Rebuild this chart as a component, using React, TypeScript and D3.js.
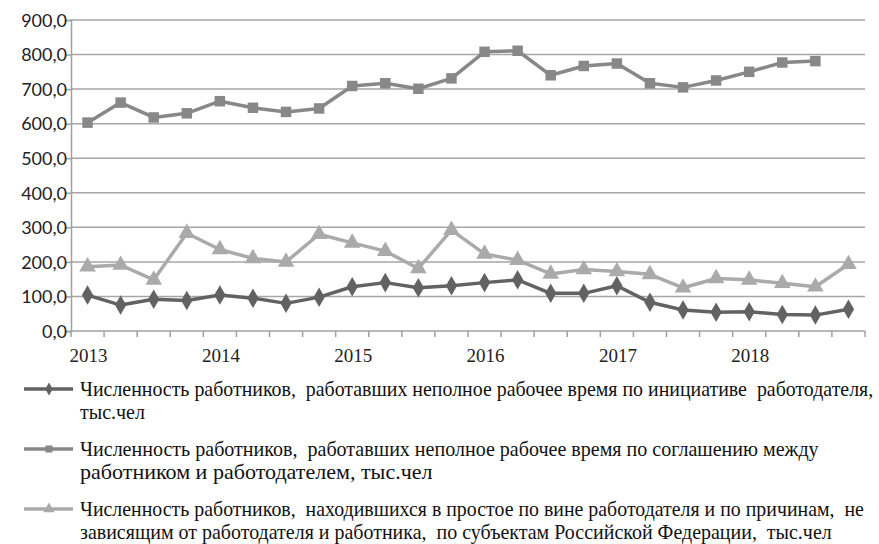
import React, { useEffect, useRef } from "react";
import * as d3 from "d3";

const years = ["2013", "2014", "2015", "2016", "2017", "2018"];
const quarters = years.flatMap(y => ["I", "II", "III", "IV"].map(q => `${y} ${q}`));

// по инициативе работодателя
const initiative = [104, 75, 92, 88, 104, 95, 80, 98, 128, 140, 125, 131,
    140, 148, 109, 109, 131, 83, 61, 54, 56, 48, 46, 63];
// по соглашению (нет данных за последний квартал)
const agreement = [603, 661, 618, 630, 665, 646, 634, 644, 709, 717, 701, 731,
    808, 811, 740, 767, 774, 717, 705, 725, 750, 777, 781, null];
// простой
const idle = [186, 191, 148, 283, 236, 210, 200, 280, 255, 231, 181, 292,
    223, 205, 165, 178, 172, 164, 125, 152, 148, 138, 128, 193];

const yTicks = [0, 100, 200, 300, 400, 500, 600, 700, 800, 900];

const legendLines = [
    ["Численность работников,  работавших неполное рабочее время по инициативе  работодателя,", "тыс.чел"],
    ["Численность работников,  работавших неполное рабочее время по соглашению между", "работником и работодателем, тыс.чел"],
    ["Численность работников,  находившихся в простое по вине работодателя и по причинам,  не", "зависящим от работодателя и работника,  по субъектам Российской Федерации,  тыс.чел"],
];
const legendWidths = [[794, 65], [739, 353], [784, 752]];

const series = [
    { values: initiative, color: "#626262", symbol: d3.symbolDiamond, size: 110 },
    { values: agreement, color: "#888888", symbol: d3.symbolSquare, size: 110 },
    { values: idle, color: "#aaaaaa", symbol: d3.symbolTriangle, size: 120 },
];

const serif = "Liberation Serif, Times New Roman, DejaVu Serif, serif";

export default function App() {
    const svgRef = useRef<SVGSVGElement>(null);

    useEffect(() => {
        const width = 879;
        const height = 544;
        const left = 71, right = 865, top = 20, bottom = 331;

        const svg = d3.select(svgRef.current)
            .attr("width", width)
            .attr("height", height);
        svg.selectAll("*").remove();

        const x = d3.scaleBand().domain(quarters).range([left, right]);
        const y = d3.scaleLinear().domain([0, 900]).range([bottom, top]);
        const cx = (q: string) => (x(q) as number) + x.bandwidth() / 2;

        // gridlines
        svg.append("g").selectAll("line")
            .data(yTicks.slice(1))
            .join("line")
            .attr("x1", left).attr("x2", right)
            .attr("y1", d => y(d)).attr("y2", d => y(d))
            .attr("stroke", "#a6a6a6").attr("stroke-width", 1.5);

        // y axis
        const yAxis = svg.append("g")
            .attr("transform", `translate(${left},0)`)
            .call(d3.axisLeft(y).tickValues(yTicks).tickSize(5)
                .tickFormat(d => d3.format(".1f")(d as number).replace(".", ",")));
        yAxis.select(".domain").attr("stroke", "#a0a0a0").attr("stroke-width", 1.5);
        yAxis.selectAll(".tick line").attr("stroke", "#a0a0a0").attr("stroke-width", 1.5);
        yAxis.selectAll(".tick text")
            .attr("font-family", "Lato, sans-serif").attr("font-size", 18)
            .attr("fill", "#222").attr("x", -4).attr("dy", "0.35em");

        // x axis
        const boundaries = quarters.map(q => x(q) as number).concat([right]);
        svg.append("line")
            .attr("x1", left).attr("x2", right).attr("y1", bottom).attr("y2", bottom)
            .attr("stroke", "#a0a0a0").attr("stroke-width", 1.5);
        svg.append("g").selectAll("line")
            .data(boundaries)
            .join("line")
            .attr("x1", d => d).attr("x2", d => d)
            .attr("y1", bottom).attr("y2", bottom + 6)
            .attr("stroke", "#a0a0a0").attr("stroke-width", 1.5);
        svg.append("g").selectAll("text")
            .data(years)
            .join("text")
            .attr("x", d => cx(`${d} I`) + 1)
            .attr("y", 362)
            .attr("text-anchor", "middle")
            .style("font-family", serif)
            .attr("font-size", 19)
            .attr("fill", "#222")
            .text(d => d);

        // series
        series.forEach(s => {
            const pts = quarters.map((q, i) => ({ q, v: s.values[i] }))
                .filter(d => d.v !== null) as { q: string; v: number }[];
            const line = d3.line<{ q: string; v: number }>()
                .x(d => cx(d.q)).y(d => y(d.v));
            svg.append("path")
                .datum(pts)
                .attr("d", line)
                .attr("fill", "none")
                .attr("stroke", s.color)
                .attr("stroke-width", 3.5)
                .attr("stroke-linejoin", "round");
            svg.append("g").selectAll("path")
                .data(pts)
                .join("path")
                .attr("transform", d => `translate(${cx(d.q)},${y(d.v)})`)
                .attr("d", d3.symbol().type(s.symbol).size(s.size)())
                .attr("fill", s.color);
        });

        // legend
        const legendY = [389, 449, 509];
        const baselines = [[396, 419], [456, 479], [516, 539]];
        series.forEach((s, i) => {
            const g = svg.append("g");
            g.append("line")
                .attr("x1", 24).attr("x2", 73)
                .attr("y1", legendY[i]).attr("y2", legendY[i])
                .attr("stroke", s.color).attr("stroke-width", 3.5);
            g.append("path")
                .attr("transform", `translate(49,${legendY[i]})`)
                .attr("d", d3.symbol().type(s.symbol).size(s.size * 0.45)())
                .attr("fill", s.color);
            legendLines[i].forEach((txt, j) => {
                const t = g.append("text")
                    .attr("x", 0)
                    .attr("y", 0)
                    .style("font-family", serif)
                    .attr("font-size", 21)
                    .attr("fill", "#111")
                    .style("white-space", "pre")
                    .text(txt);
                // squeeze the line to the width seen in the picture
                const natural = (t.node() as SVGTextElement).getComputedTextLength() || legendWidths[i][j];
                const k = legendWidths[i][j] / natural;
                t.attr("transform", `translate(80,${baselines[i][j]}) scale(${k},1)`);
            });
        });
    }, []);

    return (
        <svg ref={svgRef} style={{ position: "absolute", left: 0, top: 0, background: "#fff" }}></svg>
    );
}
